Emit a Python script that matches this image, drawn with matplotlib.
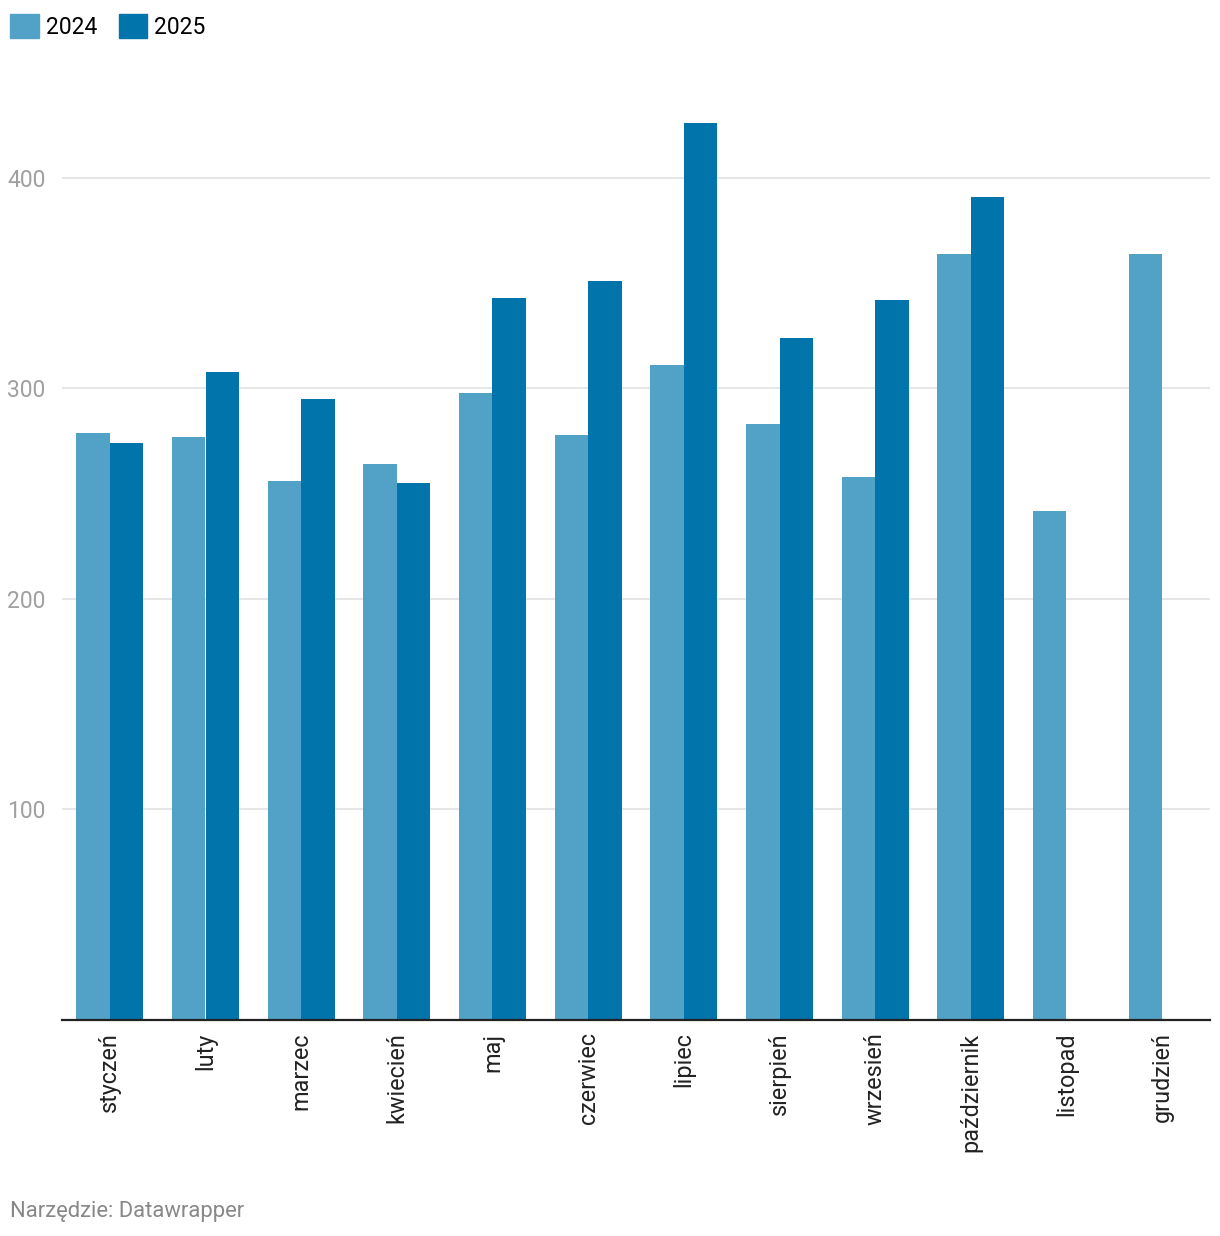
"""
Grouped bar chart: monthly values 2024 vs 2025
"""
import matplotlib
matplotlib.use("Agg")
import matplotlib.pyplot as plt
import numpy as np
from matplotlib.patches import Patch

plt.rcParams["font.family"] = ["Roboto", "DejaVu Sans"]

months = ["styczeń", "luty", "marzec", "kwiecień", "maj", "czerwiec",
          "lipiec", "sierpień", "wrzesień", "październik", "listopad", "grudzień"]
values_2024 = [279, 277, 256, 264, 298, 278, 311, 283, 258, 364, 242, 364]
values_2025 = [274, 308, 295, 255, 343, 351, 426, 324, 342, 391, np.nan, np.nan]
y_ticks = [100, 200, 300, 400]

color_2024 = "#52a2c8"
color_2025 = "#0174ab"

fig = plt.figure(figsize=(12.2, 12.36), dpi=100)
ax = fig.add_axes([62 / 1220, 216 / 1236, 1148 / 1220, 920 / 1236])

x = np.arange(len(months))
width = 0.35
ax.bar(x - width / 2, values_2024, width, color=color_2024, label="2024", linewidth=0)
ax.bar(x + width / 2, values_2025, width, color=color_2025, label="2025", linewidth=0)

ax.set_xlim(-0.5, len(months) - 0.5)
ax.set_ylim(0, 437)
ax.set_yticks(y_ticks)
ax.set_yticklabels([str(t) for t in y_ticks], fontsize=16.5, color="#a0a0a0")
ax.tick_params(axis="y", length=0, pad=12)
ax.grid(axis="y", color="#e2e2e2", linewidth=1.2)
ax.set_axisbelow(True)

ax.set_xticks(x)
ax.set_xticklabels(months, rotation=90, fontsize=16.8, color="#222222", va="top")
ax.tick_params(axis="x", length=0, pad=9)

for side in ["top", "right", "left", "bottom"]:
    ax.spines[side].set_visible(False)
ax.axhline(0, color="#222222", linewidth=1.6, clip_on=False, zorder=3)

handles = [Patch(color=color_2024, label="2024"), Patch(color=color_2025, label="2025")]
fig.legend(handles=handles, loc="upper left", bbox_to_anchor=(10 / 1220, 1 - 14 / 1236),
           ncol=2, frameon=False, fontsize=16.5, handlelength=1.25, handleheight=1.25,
           handletextpad=0.3, columnspacing=0.95, borderaxespad=0, borderpad=0)

fig.text(10 / 1220, 1 - 1211 / 1236, "Narzędzie: Datawrapper", fontsize=15.8,
         color="#888888", ha="left", va="center")

fig.savefig("out.png", dpi=100)
